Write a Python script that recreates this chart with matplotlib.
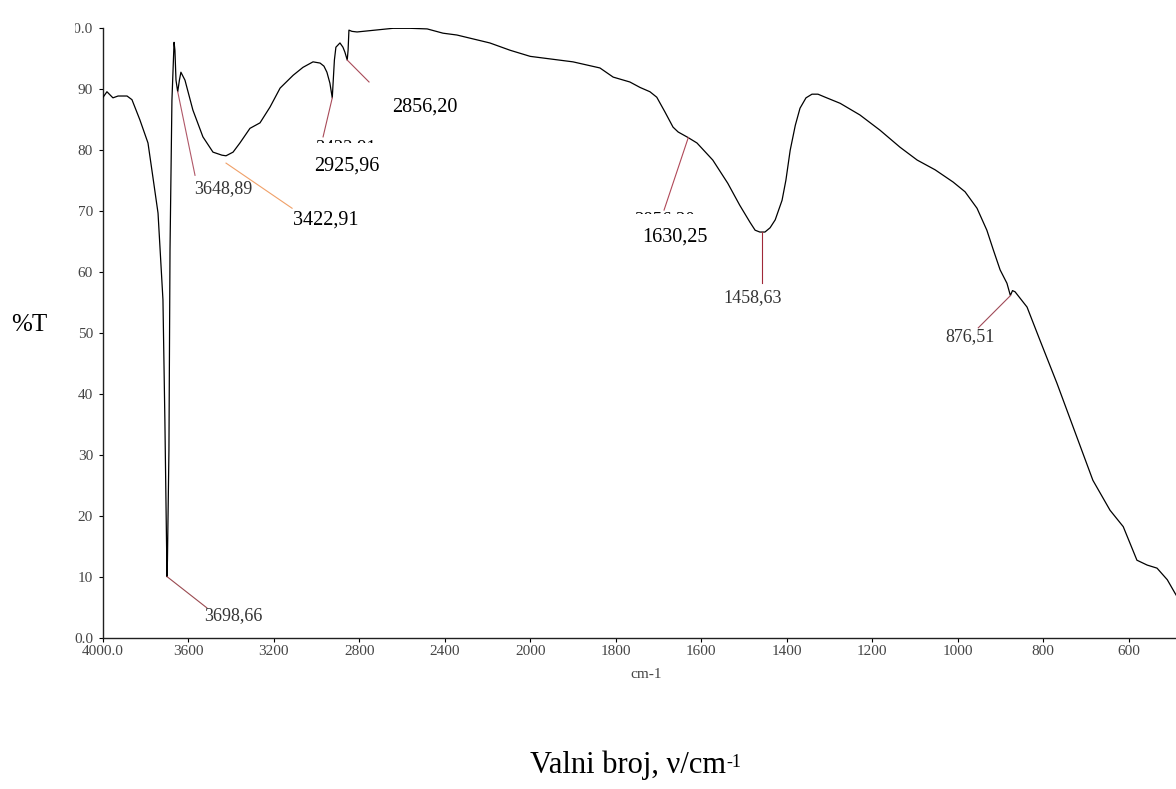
import numpy as np
import matplotlib
matplotlib.use("Agg")
import matplotlib.pyplot as plt
from matplotlib.patches import Rectangle

plt.rcParams['font.family'] = ['Liberation Serif', 'DejaVu Serif']

# spectrum (wavenumber cm-1, %T)
wn = [4000, 3980, 3952, 3928, 3886, 3863, 3826, 3788, 3765, 3741,
      3718, 3709, 3703, 3699, 3697, 3690, 3685, 3676, 3666, 3662,
      3657, 3649, 3641, 3634, 3615, 3578, 3531, 3484, 3442, 3423,
      3390, 3358, 3311, 3264, 3217, 3170, 3109, 3063, 3016, 2983,
      2965, 2951, 2937, 2926, 2916, 2909, 2890, 2876, 2867, 2856,
      2852, 2848, 2834, 2810, 2726, 2642, 2562, 2482, 2408, 2343,
      2189, 2094, 2000, 1900, 1837, 1806, 1767, 1743, 1720, 1704,
      1685, 1666, 1654, 1631, 1610, 1573, 1538, 1510, 1486, 1474,
      1463, 1451, 1439, 1427, 1411, 1402, 1392, 1380, 1369, 1355,
      1341, 1327, 1310, 1275, 1229, 1182, 1135, 1095, 1053, 1011,
      983, 955, 932, 917, 901, 885, 877, 872, 866, 838,
      808, 768, 730, 684, 644, 613, 581, 557, 534, 510,
      492, 468]
trans = [88.5, 89.5, 88.5, 88.8, 88.8, 88.2, 84.9, 81.1, 75.5, 69.6,
         55.4, 35.7, 20.0, 10.0, 12.7, 30.7, 63.5, 88.1, 97.6, 96.3,
         91.4, 89.5, 91.4, 92.7, 91.4, 86.5, 82.1, 79.6, 79.1, 79.0,
         79.6, 81.1, 83.5, 84.4, 87.0, 90.1, 92.2, 93.5, 94.4, 94.2,
         93.7, 92.7, 90.9, 88.5, 94.7, 96.8, 97.5, 96.8, 96.0, 94.7,
         96.3, 99.6, 99.4, 99.3, 99.6, 99.9, 99.9, 99.8, 99.1, 98.8,
         97.5, 96.3, 95.3, 94.4, 93.4, 91.9, 91.1, 90.2, 89.5, 88.6,
         86.2, 83.7, 82.9, 82.0, 81.1, 78.3, 74.5, 70.9, 68.1, 66.8,
         66.5, 66.5, 67.2, 68.5, 71.7, 75.0, 79.9, 84.0, 86.8, 88.5,
         89.1, 89.1, 88.6, 87.6, 85.7, 83.2, 80.4, 78.3, 76.7, 74.7,
         73.1, 70.4, 66.8, 63.6, 60.3, 58.1, 56.1, 56.9, 56.7, 54.2,
         48.8, 41.7, 34.5, 25.8, 20.9, 18.2, 12.7, 11.9, 11.4, 9.5,
         7.3, 4.5]

# peak labels
peak_labels = ["3698,66", "3648,89", "3422,91", "2925,96",
               "2856,20", "1630,25", "1458,63", "876,51"]
peak_wn = [3698.66, 3648.89, 3422.91, 2925.96, 2856.20, 1630.25, 1458.63, 876.51]
peak_t = [10.0, 89.5, 77.8, 88.5, 94.7, 82.0, 66.5, 56.1]
line_end_wn = [3513, 3568, 3114, 2969, 2754, 1687, 1458.63, 952]
line_end_t = [4.9, 75.8, 70.4, 82.1, 91.1, 70.1, 58.1, 50.8]
text_wn = [3390, 3437, 2955, 2857, 2492, 1661, 1479, 971]
text_t = [3.6, 73.7, 68.5, 77.3, 87.0, 65.7, 55.7, 49.3]
big_label = [False, False, True, True, True, True, False, False]
line_colors = ['#9a4a50', '#b05868', '#f0a068', '#a84a58',
               '#a84a58', '#b04858', '#a02838', '#a04a58']

xticks = [4000, 3600, 3200, 2800, 2400, 2000, 1800, 1600, 1400, 1200, 1000, 800, 600, 450]
xtick_labels = ["4000.0", "3600", "3200", "2800", "2400", "2000", "1800", "1600",
                "1400", "1200", "1000", "800", "600", "450.0"]
yticks = [0, 10, 20, 30, 40, 50, 60, 70, 80, 90, 100]
ytick_labels = ["0.0", "10", "20", "30", "40", "50", "60", "70", "80", "90", "100.0"]


# above 2000 cm-1 the axis is compressed by a factor 2
def fwd(w):
    w = np.asarray(w, float)
    return np.where(w >= 2000, 2000 + (w - 2000) / 2, w)


def inv(u):
    u = np.asarray(u, float)
    return np.where(u >= 2000, 2000 + (u - 2000) * 2, u)


fig = plt.figure(figsize=(11.76, 7.89), dpi=100)
ax = fig.add_axes([0.0873, 0.1918, 0.9271, 0.7731])
ax.set_xscale('function', functions=(fwd, inv))
ax.plot(wn, trans, color='black', lw=0.9, zorder=4)
ax.set_xlim(4000, 450)
ax.set_ylim(0, 100)

for s in ['top', 'right']:
    ax.spines[s].set_visible(False)
for s in ['left', 'bottom']:
    ax.spines[s].set_linewidth(1.0)
    ax.spines[s].set_color('#202020')

ax.set_xticks(xticks)
ax.set_xticklabels(xtick_labels)
ax.set_yticks(yticks)
ax.set_yticklabels(ytick_labels)
ax.tick_params(axis='both', length=3, width=0.8, labelsize=11, labelcolor='#454545')
ax.tick_params(axis='x', pad=2)
ax.tick_params(axis='y', pad=4)

for i in range(len(peak_labels)):
    ax.plot([peak_wn[i], line_end_wn[i]], [peak_t[i], line_end_t[i]],
            color=line_colors[i], lw=0.8, zorder=4)
    if big_label[i]:
        ax.text(text_wn[i], text_t[i], peak_labels[i], fontsize=14.5,
                color='black', ha='center', va='center', zorder=5)
    else:
        ax.text(text_wn[i], text_t[i], peak_labels[i], fontsize=13,
                color='#333333', ha='center', va='center', zorder=5)

# remnants of older labels, covered so only the top edge of the digits shows
frag_labels = ["3422,91", "2856,20"]
frag_wn = [2866, 1685]
frag_half = [190, 95]
frag_mid = [80.3, 68.6]
frag_cut = [81.1, 69.5]
for i in range(len(frag_labels)):
    ax.text(frag_wn[i], frag_mid[i], frag_labels[i], fontsize=13.5,
            color='black', ha='center', va='center', zorder=2)
    ax.add_patch(Rectangle((frag_wn[i] + frag_half[i], frag_cut[i] - 2.3),
                           -2 * frag_half[i], 2.3,
                           facecolor='white', edgecolor='none', zorder=3))

# the original image is cut on the left
fig.add_artist(Rectangle((0, 0), 75 / 1176, 1, transform=fig.transFigure,
                         facecolor='white', edgecolor='none', zorder=5))

fig.text(29 / 1176, 1 - 325 / 789, '%T', fontsize=18, ha='center', va='center', zorder=6)
fig.text(646 / 1176, 1 - 675 / 789, 'cm-1', fontsize=11, color='#454545',
         ha='center', va='center')

title = fig.text(530 / 1176, 1 - 765 / 789, 'Valni broj, ν/cm', fontsize=22,
                 ha='left', va='center')
renderer = fig.canvas.get_renderer()
bb = title.get_window_extent(renderer)
fig.text(bb.x1 / 1176, (bb.y1 - 4) / 789, '-1', fontsize=13, ha='left', va='top')

fig.savefig('out.png', dpi=100)
